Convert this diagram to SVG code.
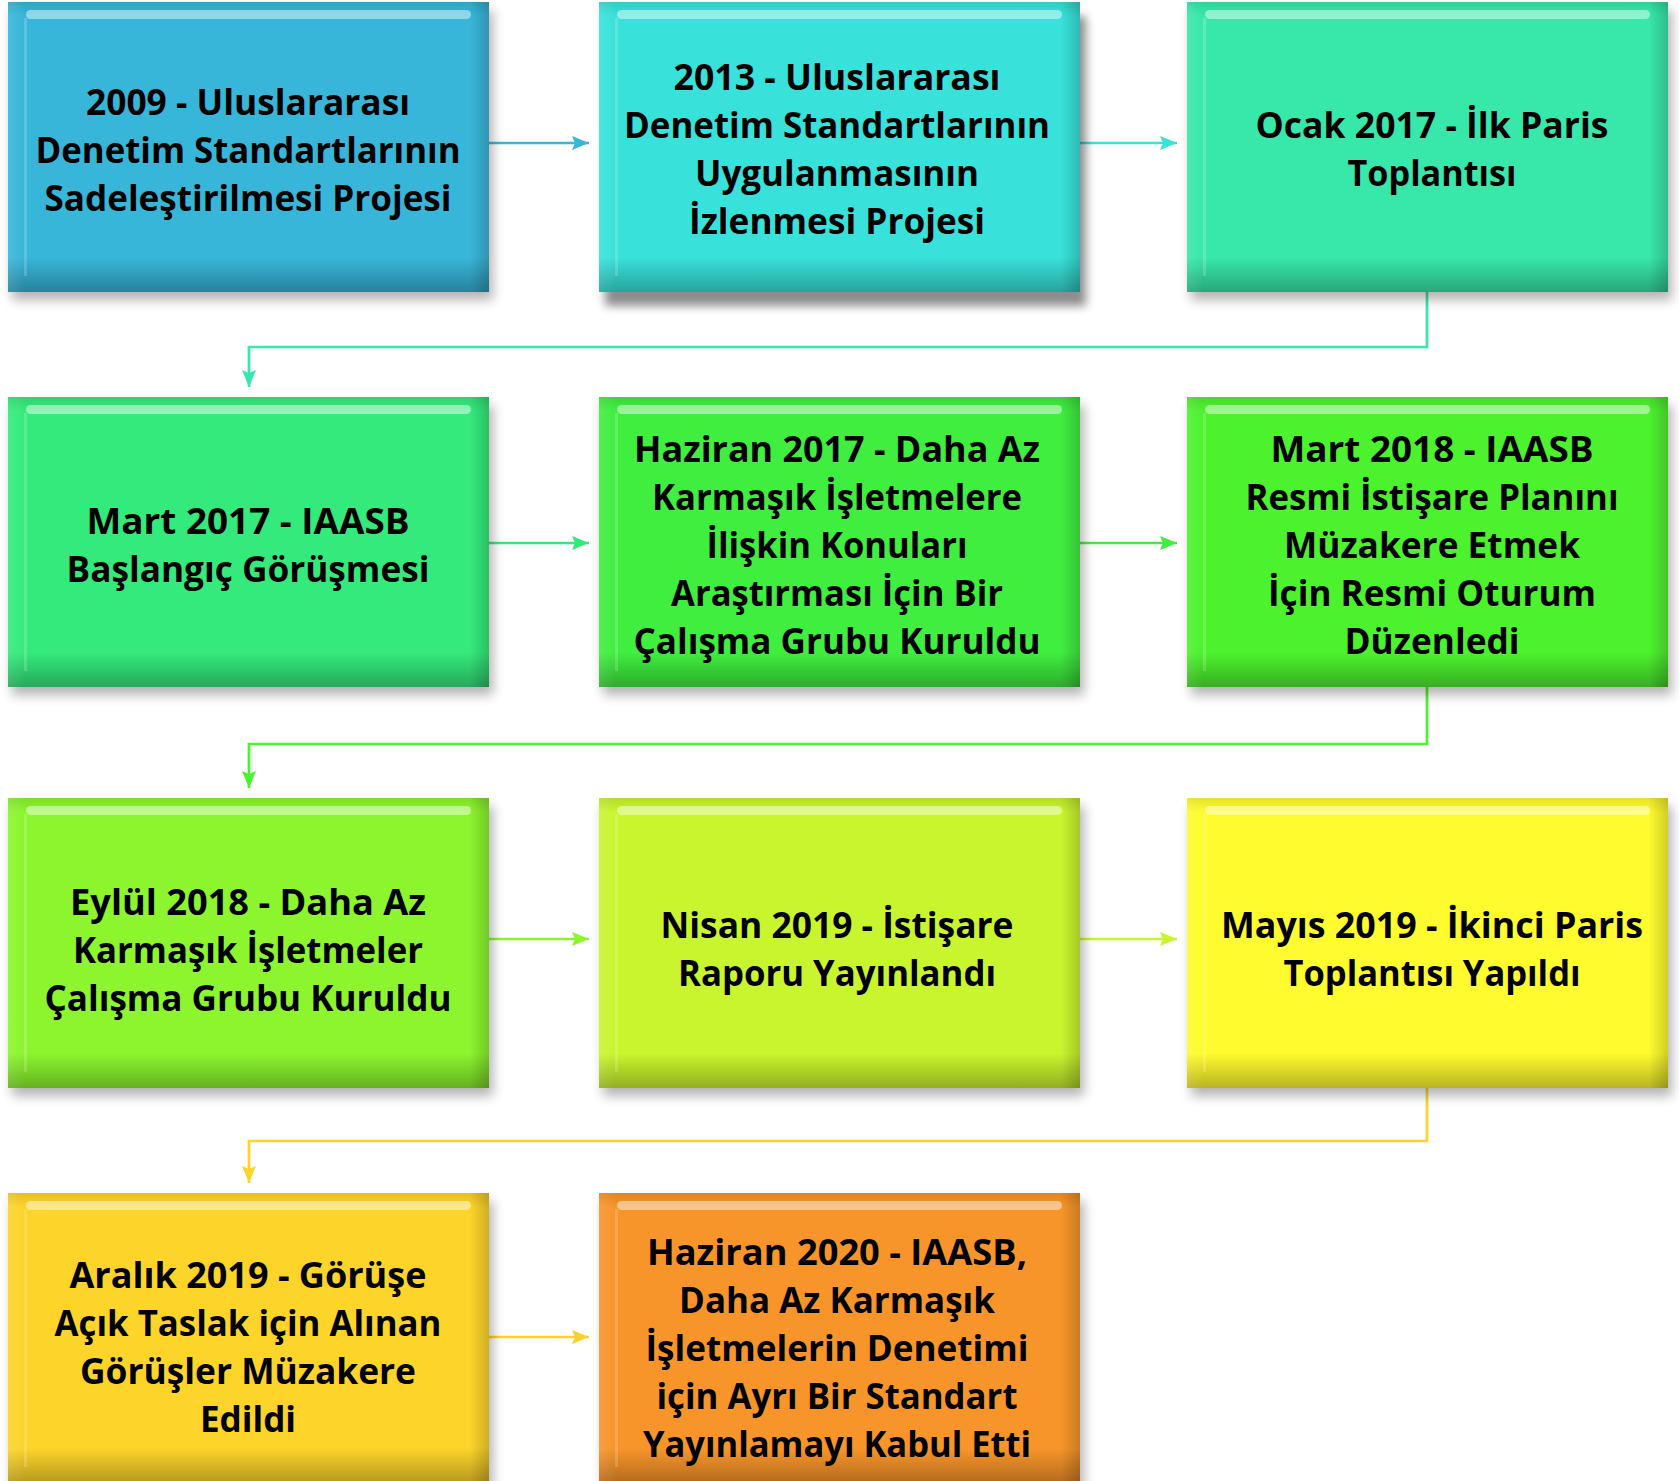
<svg xmlns="http://www.w3.org/2000/svg" xmlns:xlink="http://www.w3.org/1999/xlink" width="1679" height="1481" viewBox="0 0 1679 1481">
<style>
.t{font-family:"Open Sans","Noto Sans","DejaVu Sans",sans-serif;font-weight:700;font-size:35px;text-anchor:middle;fill:#000}
.c{fill:none;stroke-width:2.7}
</style>
<defs>
<filter id="sh" x="-5%" y="-5%" width="115%" height="125%">
<feGaussianBlur in="SourceAlpha" stdDeviation="6"/>
<feOffset dx="4" dy="8"/>
<feComponentTransfer><feFuncA type="linear" slope="0.3"/></feComponentTransfer>
<feMerge><feMergeNode/><feMergeNode in="SourceGraphic"/></feMerge>
</filter>
<filter id="sh2" x="-5%" y="-5%" width="115%" height="125%">
<feGaussianBlur in="SourceAlpha" stdDeviation="5"/>
<feOffset dx="6" dy="14"/>
<feComponentTransfer><feFuncA type="linear" slope="0.45"/></feComponentTransfer>
<feMerge><feMergeNode/><feMergeNode in="SourceGraphic"/></feMerge>
</filter>
<linearGradient id="gv" x1="0" y1="0" x2="0" y2="1">
<stop offset="0" stop-color="#000" stop-opacity="0.10"/>
<stop offset="0.05" stop-color="#000" stop-opacity="0"/>
<stop offset="0.88" stop-color="#000" stop-opacity="0"/>
<stop offset="1" stop-color="#000" stop-opacity="0.28"/>
</linearGradient>
<linearGradient id="gh" x1="0" y1="0" x2="1" y2="0">
<stop offset="0" stop-color="#fff" stop-opacity="0.10"/>
<stop offset="0.035" stop-color="#fff" stop-opacity="0"/>
<stop offset="0.96" stop-color="#000" stop-opacity="0"/>
<stop offset="1" stop-color="#000" stop-opacity="0.18"/>
</linearGradient>
<g id="bevel">
<rect width="481" height="290" fill="url(#gv)"/>
<rect width="481" height="290" fill="url(#gh)"/>
<rect x="16" y="16" width="3" height="258" fill="#fff" opacity="0.18"/>
<rect x="18" y="8" width="445" height="9" rx="4.5" fill="#fff" opacity="0.45"/>
</g>
<marker id="m1" markerWidth="17" markerHeight="14" refX="17" refY="7" orient="auto" markerUnits="userSpaceOnUse"><path d="M0,0 L17,7 L0,14 L3,7 z" fill="#39B6D9"/></marker>
<marker id="m2" markerWidth="17" markerHeight="14" refX="17" refY="7" orient="auto" markerUnits="userSpaceOnUse"><path d="M0,0 L17,7 L0,14 L3,7 z" fill="#39E2DA"/></marker>
<marker id="m3" markerWidth="17" markerHeight="14" refX="17" refY="7" orient="auto" markerUnits="userSpaceOnUse"><path d="M0,0 L17,7 L0,14 L3,7 z" fill="#38E8AA"/></marker>
<marker id="m4" markerWidth="17" markerHeight="14" refX="17" refY="7" orient="auto" markerUnits="userSpaceOnUse"><path d="M0,0 L17,7 L0,14 L3,7 z" fill="#34EA7C"/></marker>
<marker id="m5" markerWidth="17" markerHeight="14" refX="17" refY="7" orient="auto" markerUnits="userSpaceOnUse"><path d="M0,0 L17,7 L0,14 L3,7 z" fill="#40EE40"/></marker>
<marker id="m6" markerWidth="17" markerHeight="14" refX="17" refY="7" orient="auto" markerUnits="userSpaceOnUse"><path d="M0,0 L17,7 L0,14 L3,7 z" fill="#4DF22E"/></marker>
<marker id="m7" markerWidth="17" markerHeight="14" refX="17" refY="7" orient="auto" markerUnits="userSpaceOnUse"><path d="M0,0 L17,7 L0,14 L3,7 z" fill="#8CF52E"/></marker>
<marker id="m8" markerWidth="17" markerHeight="14" refX="17" refY="7" orient="auto" markerUnits="userSpaceOnUse"><path d="M0,0 L17,7 L0,14 L3,7 z" fill="#C9F52E"/></marker>
<marker id="m9" markerWidth="17" markerHeight="14" refX="17" refY="7" orient="auto" markerUnits="userSpaceOnUse"><path d="M0,0 L17,7 L0,14 L3,7 z" fill="#FCD42C"/></marker>
<marker id="m10" markerWidth="17" markerHeight="14" refX="17" refY="7" orient="auto" markerUnits="userSpaceOnUse"><path d="M0,0 L17,7 L0,14 L3,7 z" fill="#F9D32B"/></marker>
</defs>
<rect width="1679" height="1481" fill="#fff"/>

<g id="connectors">
<path class="c" d="M489,143 H589" stroke="#39B6D9" marker-end="url(#m1)"/>
<path class="c" d="M1080,143 H1177" stroke="#39E2DA" marker-end="url(#m2)"/>
<path class="c" d="M1427,290 V347 H249 V387" stroke="#38E8AA" marker-end="url(#m3)"/>
<path class="c" d="M489,543 H589" stroke="#34EA7C" marker-end="url(#m4)"/>
<path class="c" d="M1080,543 H1177" stroke="#40EE40" marker-end="url(#m5)"/>
<path class="c" d="M1427,687 V744 H249 V788" stroke="#4DF22E" marker-end="url(#m6)"/>
<path class="c" d="M489,939 H589" stroke="#8CF52E" marker-end="url(#m7)"/>
<path class="c" d="M1080,939 H1177" stroke="#C9F52E" marker-end="url(#m8)"/>
<path class="c" d="M1427,1088 V1141 H249 V1183" stroke="#FCD42C" marker-end="url(#m9)"/>
<path class="c" d="M489,1337 H589" stroke="#F9D32B" marker-end="url(#m10)"/>
</g>

<g id="n1" transform="translate(8,2)">
<rect width="481" height="290" fill="#39B6D9" filter="url(#sh)"/>
<use href="#bevel"/>
<text class="t" x="240" y="113" textLength="324" lengthAdjust="spacingAndGlyphs">2009 - Uluslararası</text>
<text class="t" x="240" y="161" textLength="425" lengthAdjust="spacingAndGlyphs">Denetim Standartlarının</text>
<text class="t" x="240" y="209" textLength="407" lengthAdjust="spacingAndGlyphs">Sadeleştirilmesi Projesi</text>
</g>

<g id="n2" transform="translate(599,2)">
<rect width="481" height="290" fill="#39E2DA" filter="url(#sh2)"/>
<use href="#bevel"/>
<text class="t" x="238" y="88" textLength="327" lengthAdjust="spacingAndGlyphs">2013 - Uluslararası</text>
<text class="t" x="238" y="136" textLength="426" lengthAdjust="spacingAndGlyphs">Denetim Standartlarının</text>
<text class="t" x="238" y="184" textLength="284" lengthAdjust="spacingAndGlyphs">Uygulanmasının</text>
<text class="t" x="238" y="232" textLength="296" lengthAdjust="spacingAndGlyphs">İzlenmesi Projesi</text>
</g>

<g id="n3" transform="translate(1187,2)">
<rect width="481" height="290" fill="#38E8AA" filter="url(#sh)"/>
<use href="#bevel"/>
<text class="t" x="245" y="136" textLength="353" lengthAdjust="spacingAndGlyphs">Ocak 2017 - İlk Paris</text>
<text class="t" x="245" y="184" textLength="169" lengthAdjust="spacingAndGlyphs">Toplantısı</text>
</g>

<g id="n4" transform="translate(8,397)">
<rect width="481" height="290" fill="#34EA7C" filter="url(#sh)"/>
<use href="#bevel"/>
<text class="t" x="240" y="137" textLength="323" lengthAdjust="spacingAndGlyphs">Mart 2017 - IAASB</text>
<text class="t" x="240" y="185" textLength="363" lengthAdjust="spacingAndGlyphs">Başlangıç Görüşmesi</text>
</g>

<g id="n5" transform="translate(599,397)">
<rect width="481" height="290" fill="#40EE40" filter="url(#sh)"/>
<use href="#bevel"/>
<text class="t" x="238" y="65" textLength="406" lengthAdjust="spacingAndGlyphs">Haziran 2017 - Daha Az</text>
<text class="t" x="238" y="113" textLength="370" lengthAdjust="spacingAndGlyphs">Karmaşık İşletmelere</text>
<text class="t" x="238" y="161" textLength="261" lengthAdjust="spacingAndGlyphs">İlişkin Konuları</text>
<text class="t" x="238" y="209" textLength="332" lengthAdjust="spacingAndGlyphs">Araştırması İçin Bir</text>
<text class="t" x="238" y="257" textLength="407" lengthAdjust="spacingAndGlyphs">Çalışma Grubu Kuruldu</text>
</g>

<g id="n6" transform="translate(1187,397)">
<rect width="481" height="290" fill="#4DF22E" filter="url(#sh)"/>
<use href="#bevel"/>
<text class="t" x="245" y="65" textLength="323" lengthAdjust="spacingAndGlyphs">Mart 2018 - IAASB</text>
<text class="t" x="245" y="113" textLength="373" lengthAdjust="spacingAndGlyphs">Resmi İstişare Planını</text>
<text class="t" x="245" y="161" textLength="296" lengthAdjust="spacingAndGlyphs">Müzakere Etmek</text>
<text class="t" x="245" y="209" textLength="328" lengthAdjust="spacingAndGlyphs">İçin Resmi Oturum</text>
<text class="t" x="245" y="257" textLength="175" lengthAdjust="spacingAndGlyphs">Düzenledi</text>
</g>

<g id="n7" transform="translate(8,798)">
<rect width="481" height="290" fill="#8CF52E" filter="url(#sh)"/>
<use href="#bevel"/>
<text class="t" x="240" y="117" textLength="356" lengthAdjust="spacingAndGlyphs">Eylül 2018 - Daha Az</text>
<text class="t" x="240" y="165" textLength="350" lengthAdjust="spacingAndGlyphs">Karmaşık İşletmeler</text>
<text class="t" x="240" y="213" textLength="407" lengthAdjust="spacingAndGlyphs">Çalışma Grubu Kuruldu</text>
</g>

<g id="n8" transform="translate(599,798)">
<rect width="481" height="290" fill="#C9F52E" filter="url(#sh)"/>
<use href="#bevel"/>
<text class="t" x="238" y="140" textLength="353" lengthAdjust="spacingAndGlyphs">Nisan 2019 - İstişare</text>
<text class="t" x="238" y="188" textLength="318" lengthAdjust="spacingAndGlyphs">Raporu Yayınlandı</text>
</g>

<g id="n9" transform="translate(1187,798)">
<rect width="481" height="290" fill="#FFFB2E" filter="url(#sh)"/>
<use href="#bevel"/>
<text class="t" x="245" y="140" textLength="422" lengthAdjust="spacingAndGlyphs">Mayıs 2019 - İkinci Paris</text>
<text class="t" x="245" y="188" textLength="297" lengthAdjust="spacingAndGlyphs">Toplantısı Yapıldı</text>
</g>

<g id="n10" transform="translate(8,1193)">
<rect width="481" height="290" fill="#FCD42C" filter="url(#sh)"/>
<use href="#bevel"/>
<text class="t" x="240" y="95" textLength="357" lengthAdjust="spacingAndGlyphs">Aralık 2019 - Görüşe</text>
<text class="t" x="240" y="143" textLength="387" lengthAdjust="spacingAndGlyphs">Açık Taslak için Alınan</text>
<text class="t" x="240" y="191" textLength="336" lengthAdjust="spacingAndGlyphs">Görüşler Müzakere</text>
<text class="t" x="240" y="239" textLength="96" lengthAdjust="spacingAndGlyphs">Edildi</text>
</g>

<g id="n11" transform="translate(599,1193)">
<rect width="481" height="290" fill="#F8952B" filter="url(#sh)"/>
<use href="#bevel"/>
<text class="t" x="238" y="72" textLength="380" lengthAdjust="spacingAndGlyphs">Haziran 2020 - IAASB,</text>
<text class="t" x="238" y="120" textLength="316" lengthAdjust="spacingAndGlyphs">Daha Az Karmaşık</text>
<text class="t" x="238" y="168" textLength="383" lengthAdjust="spacingAndGlyphs">İşletmelerin Denetimi</text>
<text class="t" x="238" y="216" textLength="361" lengthAdjust="spacingAndGlyphs">için Ayrı Bir Standart</text>
<text class="t" x="238" y="264" textLength="388" lengthAdjust="spacingAndGlyphs">Yayınlamayı Kabul Etti</text>
</g>
</svg>
